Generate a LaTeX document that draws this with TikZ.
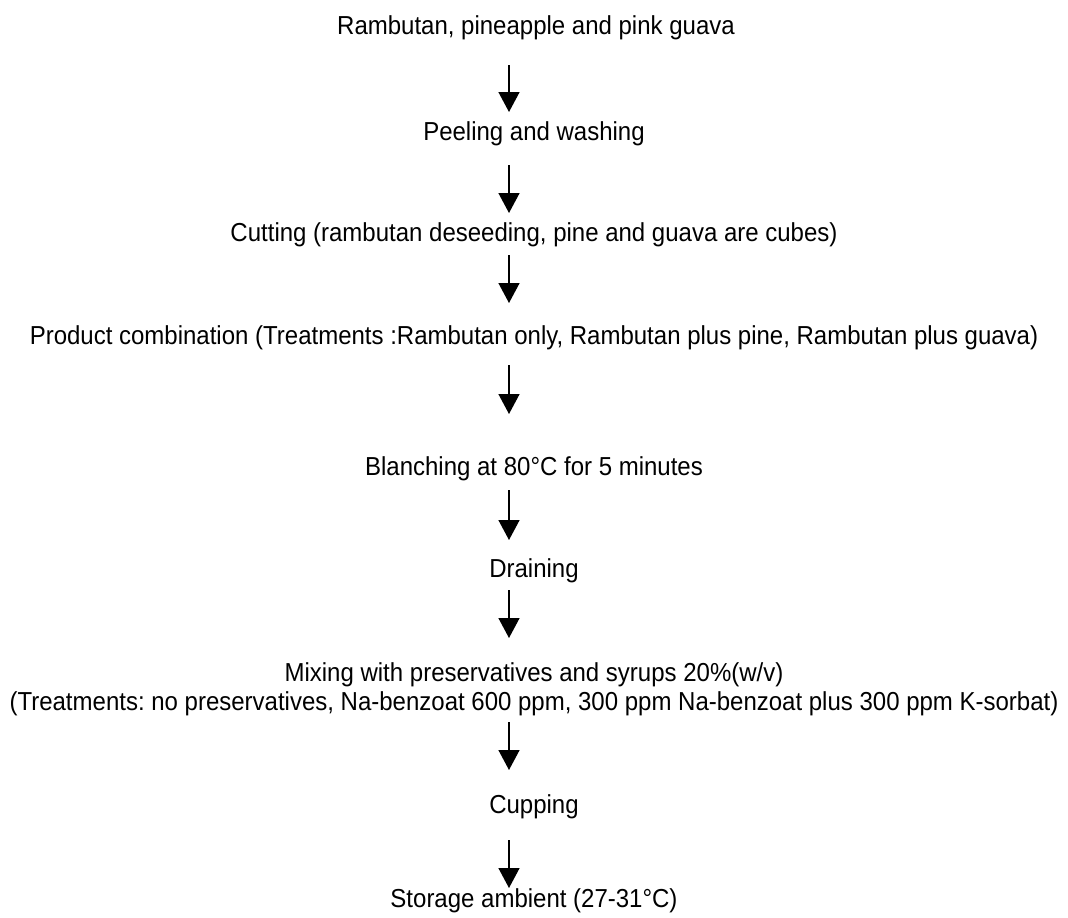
\documentclass[tikz,border=0pt]{standalone}
\usepackage{fontspec}
\setmainfont{Liberation Sans}[FakeStretch=0.923]
\usetikzlibrary{arrows.meta}
\frenchspacing
\begin{document}
\begin{tikzpicture}[x=1pt,y=-1pt,
  lbl/.style={anchor=base,inner sep=0pt,font=\fontsize{26}{29}\selectfont,align=center},
  arr/.style={line width=1.5pt,-{Triangle[length=20pt,width=21pt]}}]
\useasboundingbox (0,0) rectangle (1068,918);
\node[lbl] (n1) at (536,34) {Rambutan, pineapple and pink guava};
\node[lbl] (n2) at (534,140) {Peeling and washing};
\node[lbl] (n3) at (534,241) {Cutting (rambutan deseeding, pine and guava are cubes)};
\node[lbl] (n4) at (534,344) {Product combination (Treatments :Rambutan only, Rambutan plus pine, Rambutan plus guava)};
\node[lbl] (n5) at (534,475) {Blanching at 80°C for 5 minutes};
\node[lbl] (n6) at (534,577) {Draining};
\node[lbl] (n7) at (534,681) {Mixing with preservatives and syrups 20\%(w/v)};
\node[lbl] (n8) at (534,710) {(Treatments: no preservatives, Na-benzoat 600 ppm, 300 ppm Na-benzoat plus 300 ppm K-sorbat)};
\node[lbl] (n9) at (534,813) {Cupping};
\node[lbl] (n10) at (534,907) {Storage ambient (27-31°C)};
\coordinate (a1s) at (509,65);  \coordinate (a1e) at (509,112);
\coordinate (a2s) at (509,165); \coordinate (a2e) at (509,213);
\coordinate (a3s) at (509,255); \coordinate (a3e) at (509,303);
\coordinate (a4s) at (509,365); \coordinate (a4e) at (509,414);
\coordinate (a5s) at (509,490); \coordinate (a5e) at (509,540);
\coordinate (a6s) at (509,590); \coordinate (a6e) at (509,638);
\coordinate (a7s) at (509,722); \coordinate (a7e) at (509,770);
\coordinate (a8s) at (509,840); \coordinate (a8e) at (509,888);
\foreach \i in {1,...,8} \draw[arr] (a\i s) -- (a\i e);
\end{tikzpicture}
\end{document}
